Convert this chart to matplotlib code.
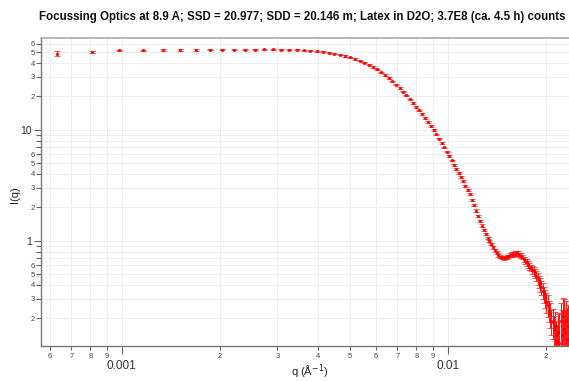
import numpy as np
import matplotlib
matplotlib.use("Agg")
import matplotlib.pyplot as plt
from matplotlib.ticker import FixedLocator, FixedFormatter

plt.rcParams['font.family'] = ['Liberation Sans', 'DejaVu Sans']

title = "Focussing Optics at 8.9 A; SSD = 20.977; SDD = 20.146 m; Latex in D2O; 3.7E8 (ca. 4.5 h) counts"

# q in 1/A
q = [0.000633, 0.000808, 0.000983, 0.001158, 0.001333, 0.001508, 0.001683, 0.001858, 0.002033, 0.002208,
     0.002383, 0.002558, 0.002733, 0.002908, 0.003083, 0.003258, 0.003433, 0.003608, 0.003783, 0.003958,
     0.004133, 0.004308, 0.004483, 0.004658, 0.004833, 0.005008, 0.005183, 0.005358, 0.005533, 0.005708,
     0.005883, 0.006058, 0.006233, 0.006408, 0.006583, 0.006758, 0.006933, 0.007108, 0.007283, 0.007458,
     0.007633, 0.007808, 0.007983, 0.008158, 0.008333, 0.008508, 0.008683, 0.008858, 0.009033, 0.009208,
     0.009383, 0.009558, 0.009733, 0.009908, 0.010083, 0.010258, 0.010433, 0.010608, 0.010783, 0.010958,
     0.011133, 0.011308, 0.011483, 0.011658, 0.011833, 0.012008, 0.012183, 0.012358, 0.012533, 0.012708,
     0.012883, 0.013058, 0.013233, 0.013408, 0.013583, 0.013758, 0.013933, 0.014108, 0.014283, 0.014458,
     0.014633, 0.014808, 0.014983, 0.015158, 0.015333, 0.015508, 0.015683, 0.015858, 0.016033, 0.016208,
     0.016383, 0.016558, 0.016733, 0.016908, 0.017083, 0.017258, 0.017433, 0.017608, 0.017783, 0.017958,
     0.018133, 0.018308, 0.018483, 0.018658, 0.018833, 0.019008, 0.019183, 0.019358, 0.019533, 0.019708,
     0.019883, 0.020058, 0.020233, 0.020408, 0.020583, 0.020758, 0.020933, 0.021108, 0.021283, 0.021458,
     0.021633, 0.021808, 0.021983, 0.022158, 0.022333, 0.022508, 0.022683, 0.022858, 0.023033, 0.023208,
     0.023383]

intensity = [48.7, 50.4, 52.1, 52.3, 52.4, 52.4, 52.5, 52.6, 52.7, 52.7,
             52.8, 53.0, 53.1, 53.1, 53.0, 52.9, 52.6, 52.3, 51.8, 51.2,
             50.6, 49.6, 48.7, 47.6, 46.3, 44.9, 43.5, 42.0, 40.4, 38.7,
             36.9, 35.0, 33.1, 31.2, 29.3, 27.4, 25.5, 23.8, 22.1, 20.4,
             18.8, 17.4, 16.1, 15.0, 13.86, 12.79, 11.78, 10.83, 9.93, 9.10,
             8.32, 7.61, 6.95, 6.35, 5.80, 5.31, 4.86, 4.46, 4.08, 3.74,
             3.43, 3.14, 2.88, 2.64, 2.35, 2.09, 1.87, 1.67, 1.51, 1.37,
             1.25, 1.15, 1.06, 0.99, 0.93, 0.87, 0.82, 0.78, 0.745, 0.72,
             0.705, 0.70, 0.705, 0.715, 0.725, 0.745, 0.76, 0.75, 0.765, 0.775,
             0.765, 0.745, 0.735, 0.715, 0.68, 0.655, 0.64, 0.61, 0.585, 0.57,
             0.55, 0.53, 0.51, 0.485, 0.455, 0.43, 0.405, 0.38, 0.355, 0.33,
             0.305, 0.28, 0.265, 0.235, 0.22, 0.19, 0.185, 0.16, 0.17, 0.14,
             0.125, 0.15, 0.12, 0.19, 0.14, 0.21, 0.16, 0.15, 0.19, 0.13,
             0.17]

# relative error of each point
rel_err = [0.045, 0.025, 0.012, 0.012, 0.012, 0.012, 0.012, 0.012, 0.012, 0.012,
           0.012, 0.012, 0.012, 0.012, 0.012, 0.012, 0.012, 0.012, 0.012, 0.012,
           0.012, 0.013, 0.013, 0.013, 0.013, 0.013, 0.013, 0.013, 0.013, 0.013,
           0.013, 0.013, 0.013, 0.013, 0.013, 0.013, 0.013, 0.013, 0.013, 0.013,
           0.013, 0.016, 0.016, 0.016, 0.016, 0.016, 0.016, 0.016, 0.016, 0.016,
           0.016, 0.016, 0.016, 0.016, 0.016, 0.016, 0.022, 0.022, 0.022, 0.022,
           0.022, 0.022, 0.022, 0.022, 0.022, 0.022, 0.025, 0.025, 0.025, 0.025,
           0.025, 0.025, 0.025, 0.025, 0.025, 0.025, 0.035, 0.035, 0.035, 0.035,
           0.035, 0.035, 0.035, 0.035, 0.035, 0.035, 0.05, 0.05, 0.05, 0.05,
           0.05, 0.05, 0.05, 0.05, 0.05, 0.05, 0.07, 0.07, 0.07, 0.07,
           0.08, 0.1, 0.1, 0.1, 0.12, 0.12, 0.15, 0.15, 0.16, 0.16,
           0.18, 0.2, 0.22, 0.22, 0.25, 0.25, 0.3, 0.3, 0.35, 0.35,
           0.4, 0.45, 0.85, 0.45, 0.7, 0.45, 0.85, 0.6, 0.5, 0.9,
           0.55]

x_major = [0.001, 0.01]
x_major_labels = ["0.001", "0.01"]
x_minor = [6e-4, 7e-4, 8e-4, 9e-4, 2e-3, 3e-3, 4e-3, 5e-3, 6e-3, 7e-3, 8e-3, 9e-3, 2e-2]
x_minor_labels = ["6", "7", "8", "9", "2", "3", "4", "5", "6", "7", "8", "9", "2"]
y_major = [1, 10]
y_major_labels = ["1", "10"]
y_minor = [0.2, 0.3, 0.4, 0.5, 0.6, 0.7, 0.8, 0.9, 2, 3, 4, 5, 6, 7, 8, 9, 20, 30, 40, 50, 60]
y_minor_labels = ["2", "3", "4", "5", "6", "", "", "", "2", "3", "4", "5", "6", "", "", "",
                  "2", "3", "4", "5", "6"]

q = np.array(q)
intensity = np.array(intensity)
err = intensity * np.array(rel_err)

fig = plt.figure(figsize=(5.69, 3.81), dpi=100)
ax = fig.add_axes([41 / 569, 35 / 381, 534 / 569, 308 / 381])

ax.errorbar(q, intensity, yerr=err, fmt='s', color='#ff0000', ecolor='#ff1a1a',
            markersize=2.0, markeredgewidth=0.5, elinewidth=0.8, capsize=2.2, capthick=1.0)

ax.set_xscale('log')
ax.set_yscale('log', nonpositive='clip')
ax.set_xlim(5.65e-4, 0.02453)
ax.set_ylim(0.1125, 67.3)

ax.xaxis.set_major_locator(FixedLocator(x_major))
ax.xaxis.set_major_formatter(FixedFormatter(x_major_labels))
ax.xaxis.set_minor_locator(FixedLocator(x_minor))
ax.xaxis.set_minor_formatter(FixedFormatter(x_minor_labels))
ax.yaxis.set_major_locator(FixedLocator(y_major))
ax.yaxis.set_major_formatter(FixedFormatter(y_major_labels))
ax.yaxis.set_minor_locator(FixedLocator(y_minor))
ax.yaxis.set_minor_formatter(FixedFormatter(y_minor_labels))

ax.tick_params(axis='x', which='major', direction='out', length=6, width=0.8,
               labelsize=8.5, pad=4, color='#666666', labelcolor='#333333')
ax.tick_params(axis='x', which='minor', direction='out', length=3, width=0.8,
               labelsize=5.5, pad=2, color='#666666', labelcolor='#444444')
ax.tick_params(axis='y', which='major', direction='out', length=5, width=0.8,
               labelsize=7.5, pad=1.5, color='#666666', labelcolor='#333333')
ax.tick_params(axis='y', which='minor', direction='out', length=3.5, width=0.8,
               labelsize=5.5, pad=0.8, color='#666666', labelcolor='#444444')

ax.grid(True, which='both', color='#eeeeee', linewidth=0.7)
ax.set_axisbelow(True)

for side in ['left', 'bottom']:
    ax.spines[side].set_color('#777777')
    ax.spines[side].set_linewidth(1.0)
ax.spines['top'].set_color('#aaaaaa')
ax.spines['top'].set_linewidth(1.2)
ax.spines['right'].set_visible(False)

fig.text(302 / 569, 1 - 17 / 381, title, ha='center', va='center',
         fontsize=8.3, fontweight='bold', color='#111111')
fig.text(15 / 569, 1 - 195 / 381, "I(q)", ha='center', va='center',
         rotation=90, fontsize=8, color='#222222')
fig.text(310 / 569, 1 - 372 / 381, "q (Å$^{-1}$)", ha='center', va='center',
         fontsize=8, color='#222222')

fig.savefig("out.png", dpi=100)
